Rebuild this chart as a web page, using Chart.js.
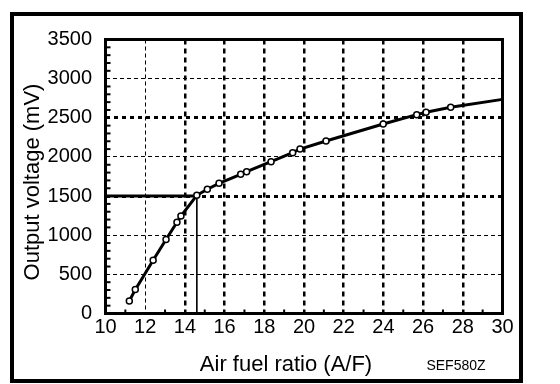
<!DOCTYPE html>
<html>
<head>
<meta charset="utf-8">
<script src="https://cdn.jsdelivr.net/npm/chart.js@4"></script>
<style>
  html, body { margin: 0; padding: 0; background: #fff; }
  #wrap { width: 560px; height: 384px; }
</style>
</head>
<body>
<div id="wrap"><canvas id="chart" width="560" height="384"></canvas></div>
<script>
// Sensor curve
const afRatio = [11.2, 11.5, 12.4, 13.05, 13.6, 13.8, 14.6, 15.13, 15.72, 16.81, 17.11, 18.34, 19.43, 19.8, 21.11, 23.99, 25.68, 26.15, 27.39, 30];
const outputMv = [160, 305, 680, 945, 1165, 1245, 1510, 1587, 1663, 1778, 1811, 1939, 2054, 2101, 2204, 2421, 2540, 2570, 2634, 2735];
// last point is where the curve leaves the frame, no marker there
const markerShown = [1, 1, 1, 1, 1, 1, 1, 1, 1, 1, 1, 1, 1, 1, 1, 1, 1, 1, 1, 0];

// stoichiometric marker lines
const stoichX = [10, 14.6];
const stoichLevel = [1500, 1500];
const dropX = [14.6, 14.6];
const dropY = [1500, 0];

const xTickValues = [10, 12, 14, 16, 18, 20, 22, 24, 26, 28, 30];
const yTickValues = [0, 500, 1000, 1500, 2000, 2500, 3000, 3500];

const xTitle = 'Air fuel ratio (A/F)';
const yTitle = 'Output voltage (mV)';
const figCode = 'SEF580Z';

const FONT = '"Liberation Sans", Arial, Helvetica, sans-serif';

function pairs(xs, ys) {
    return xs.map((x, i) => ({ x: x, y: ys[i] }));
}

// frame, minor ticks and titles
const decorations = {
    id: 'decorations',
    afterDraw(chart) {
        const { ctx, chartArea: a, scales } = chart;
        const xs = scales.x, ys = scales.y;
        ctx.save();
        ctx.strokeStyle = '#000';

        // minor ticks, inside the plot
        ctx.lineWidth = 2;
        for (let v = 100; v < 3500; v += 100) {
            if (v % 500 === 0) continue;
            const py = ys.getPixelForValue(v);
            ctx.beginPath();
            ctx.moveTo(a.left, py);
            ctx.lineTo(a.left + 5, py);
            ctx.stroke();
        }
        for (let v = 11; v < 30; v += 2) {
            const px = xs.getPixelForValue(v);
            ctx.beginPath();
            ctx.moveTo(px, a.bottom);
            ctx.lineTo(px, a.bottom - 4);
            ctx.stroke();
        }

        // plot frame
        ctx.lineWidth = 3;
        ctx.strokeRect(a.left, a.top, a.right - a.left, a.bottom - a.top);

        // outer frame
        ctx.lineWidth = 4;
        ctx.strokeRect(12, 14, 509, 367);

        // titles
        ctx.fillStyle = '#000';
        ctx.textBaseline = 'middle';
        ctx.textAlign = 'center';
        ctx.font = '22px ' + FONT;
        ctx.fillText(xTitle, 286, 365);
        ctx.font = '14px ' + FONT;
        ctx.fillText(figCode, 456, 366);

        ctx.translate(33, 182);
        ctx.rotate(-Math.PI / 2);
        ctx.font = '22px ' + FONT;
        ctx.fillText(yTitle, 0, 0);
        ctx.restore();
    }
};

const isThickX = v => v !== 12;
const isThickY = v => v === 1500 || v === 2500;

new Chart(document.getElementById('chart'), {
    type: 'line',
    data: {
        datasets: [
            {
                data: pairs(afRatio, outputMv),
                borderColor: '#000',
                borderWidth: 3,
                pointRadius: markerShown.map(m => m ? 3 : 0),
                pointBorderWidth: 1.5,
                pointBackgroundColor: '#fff',
                pointBorderColor: '#000',
                tension: 0,
                order: 1,
            },
            {
                data: pairs(stoichX, stoichLevel),
                borderColor: '#000',
                borderWidth: 3,
                pointRadius: 0,
                order: 2,
            },
            {
                data: pairs(dropX, dropY),
                borderColor: '#000',
                borderWidth: 1,
                pointRadius: 0,
                order: 3,
            },
        ],
    },
    options: {
        responsive: false,
        animation: false,
        events: [],
        layout: { padding: { left: 0, top: 39.5, right: 57.5, bottom: 0 } },
        plugins: {
            legend: { display: false },
            tooltip: { enabled: false },
        },
        scales: {
            x: {
                type: 'linear',
                min: 10,
                max: 30,
                afterFit: s => { s.height = 70.5; },
                afterBuildTicks: s => { s.ticks = xTickValues.map(v => ({ value: v })); },
                border: {
                    display: false,
                    dash: c => (c.tick && isThickX(c.tick.value)) ? [5, 4] : [4, 3],
                },
                grid: {
                    drawTicks: false,
                    color: c => (c.tick && (c.tick.value === 10 || c.tick.value === 30)) ? 'rgba(0,0,0,0)' : '#000',
                    lineWidth: c => (c.tick && isThickX(c.tick.value)) ? 2.5 : 1,
                },
                ticks: {
                    color: '#000',
                    padding: 2,
                    maxRotation: 0,
                    font: { family: FONT, size: 20 },
                    callback: v => String(v),
                },
            },
            y: {
                type: 'linear',
                min: 0,
                max: 3500,
                afterFit: s => { s.width = 105.5; },
                afterBuildTicks: s => { s.ticks = yTickValues.map(v => ({ value: v })); },
                border: {
                    display: false,
                    dash: c => (c.tick && isThickY(c.tick.value)) ? [4, 4] : [4, 3],
                },
                grid: {
                    drawTicks: false,
                    color: c => (c.tick && (c.tick.value === 0 || c.tick.value === 3500)) ? 'rgba(0,0,0,0)' : '#000',
                    lineWidth: c => (c.tick && isThickY(c.tick.value)) ? 3 : 1,
                },
                ticks: {
                    color: '#000',
                    padding: 13.5,
                    font: { family: FONT, size: 20 },
                    callback: v => String(v),
                },
            },
        },
    },
    plugins: [decorations],
});
</script>
</body>
</html>
